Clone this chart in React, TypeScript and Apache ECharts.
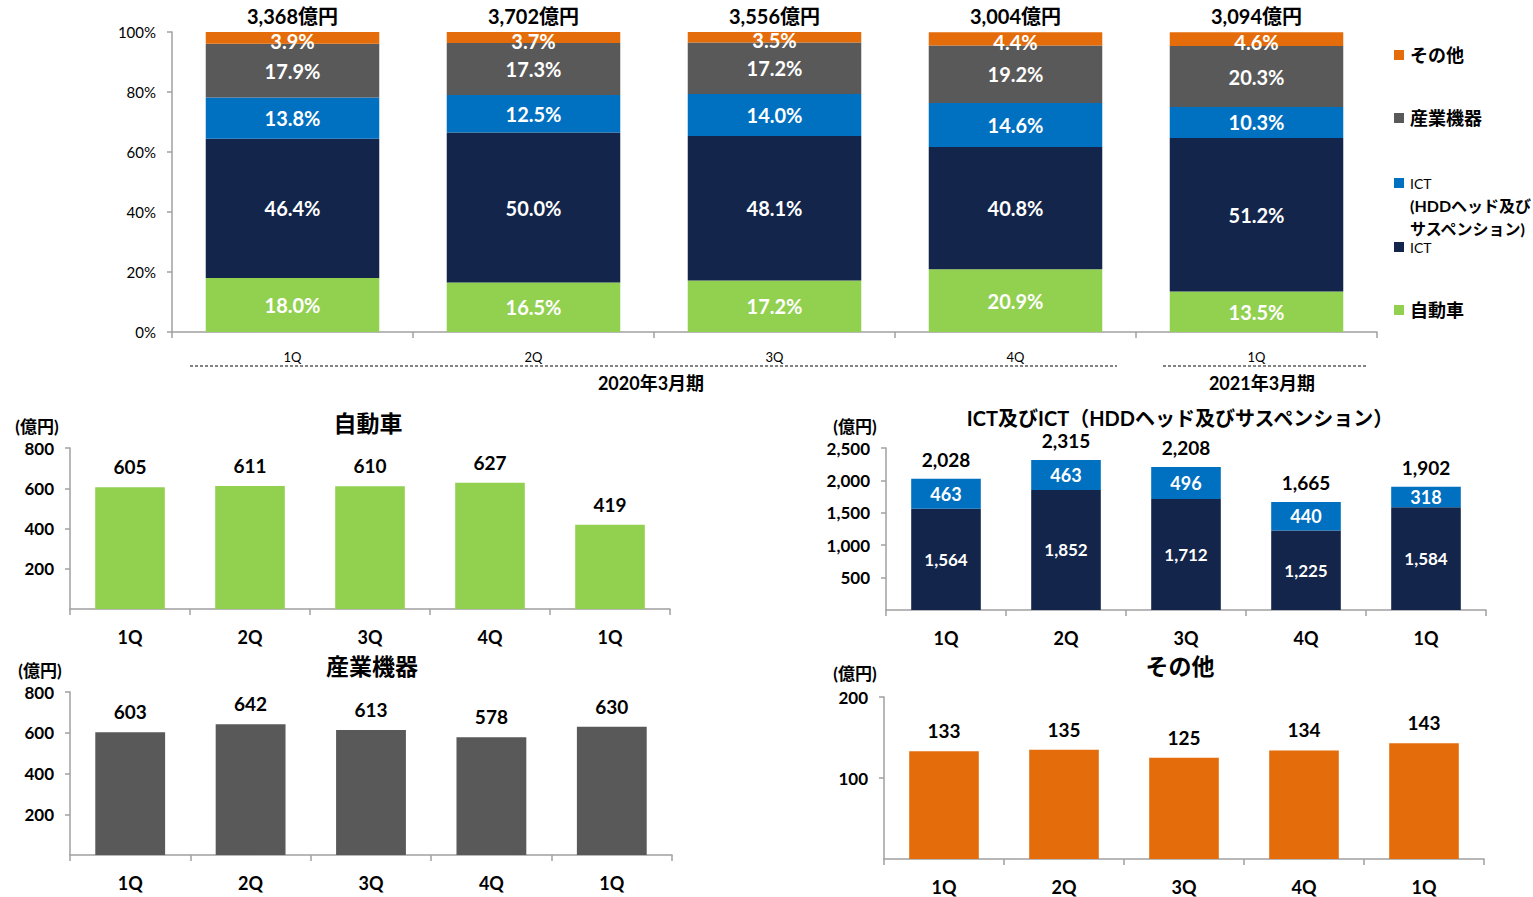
import React, { useEffect, useRef } from "react";
import * as echarts from "echarts";

// ---- data ----
const quarters = ["1Q", "2Q", "3Q", "4Q", "1Q"];
const periods = ["2020年3月期", "2021年3月期"];

// composition of sales (%)
const shareAuto = [18.0, 16.5, 17.2, 20.9, 13.5];
const shareICT = [46.4, 50.0, 48.1, 40.8, 51.2];
const shareHDD = [13.8, 12.5, 14.0, 14.6, 10.3];
const shareIndustrial = [17.9, 17.3, 17.2, 19.2, 20.3];
const shareOther = [3.9, 3.7, 3.5, 4.4, 4.6];
const totalSales = [3368, 3702, 3556, 3004, 3094];

// sales by segment (億円)
const autoSales = [605, 611, 610, 627, 419];
const ictSales = [1564, 1852, 1712, 1225, 1584];
const hddSales = [463, 463, 496, 440, 318];
const ictTotals = [2028, 2315, 2208, 1665, 1902];
const industrialSales = [603, 642, 613, 578, 630];
const otherSales = [133, 135, 125, 134, 143];

const legendNames = ["その他", "産業機器", "ICT", "(HDDヘッド及び", "サスペンション)", "ICT", "自動車"];

// ---- styles ----
const FONT = "Lato, 'Noto Sans CJK JP', sans-serif";
const C_AUTO = "#92D050";
const C_ICT = "#13254A";
const C_HDD = "#0070C0";
const C_IND = "#595959";
const C_OTHER = "#E46C0A";
const AXIS = "#A0A0A0";

const fmt = (n: number) => n.toLocaleString("en-US");

export default function App() {
  const ref = useRef<HTMLDivElement>(null);

  useEffect(() => {
    if (!ref.current) return;
    const chart = echarts.init(ref.current, undefined, { renderer: "svg" });

    const catAxis = (gridIndex: number, top: boolean) => ({
      type: "category",
      gridIndex,
      data: quarters,
      axisLine: { show: true, lineStyle: { color: AXIS, width: 1.5 } },
      axisTick: { show: true, length: 6, lineStyle: { color: AXIS, width: 1.5 } },
      axisLabel: top
        ? { fontSize: 13, color: "#000", margin: 18, fontFamily: FONT }
        : { fontSize: 18, fontWeight: "bold", color: "#000", margin: 19, fontFamily: FONT },
    });

    const valAxis = (gridIndex: number, max: number, interval: number, fmtFn: any, size: number) => ({
      type: "value",
      gridIndex,
      min: 0,
      max,
      interval,
      splitLine: { show: false },
      axisLine: { show: true, lineStyle: { color: AXIS, width: 1.5 } },
      axisTick: { show: true, length: 5, lineStyle: { color: AXIS, width: 1.5 } },
      axisLabel: {
        formatter: fmtFn,
        fontSize: size,
        fontWeight: gridIndex === 0 ? "normal" : "bold",
        color: "#000",
        margin: 16,
        fontFamily: FONT,
        showMinLabel: gridIndex === 0,
      },
    });

    const shareSeg = (name: string, data: number[], color: string, offsetY = 0) => ({
      name,
      type: "bar",
      stack: "share",
      xAxisIndex: 0,
      yAxisIndex: 0,
      barWidth: "72%",
      data,
      itemStyle: { color },
      label: {
        show: true,
        position: "inside",
        offset: [0, offsetY],
        formatter: (p: any) => Number(p.value).toFixed(1) + "%",
        color: "#fff",
        fontSize: 20,
        fontWeight: "bold",
        fontFamily: FONT,
      },
    });

    const simpleBar = (idx: number, data: number[], color: string) => ({
      type: "bar",
      xAxisIndex: idx,
      yAxisIndex: idx,
      barWidth: "58%",
      data,
      itemStyle: { color },
      label: {
        show: true,
        position: "top",
        distance: 11,
        color: "#000",
        fontSize: 19,
        fontWeight: "bold",
        fontFamily: FONT,
      },
    });

    const txt = (x: number, y: number, text: string, size: number, extra: any = {}) => ({
      type: "text",
      x,
      y,
      style: {
        text,
        fontSize: size,
        fontWeight: "bold",
        fontFamily: FONT,
        fill: "#000",
        align: "center",
        verticalAlign: "middle",
        ...extra,
      },
    });

    const sq = (y: number, color: string) => ({
      type: "rect",
      shape: { x: 1394, y: y - 5, width: 10, height: 10 },
      style: { fill: color },
    });

    const leftTxt = { align: "left" };

    const option: any = {
      animation: false,
      textStyle: { fontFamily: FONT },
      grid: [
        { left: 172, top: 32, width: 1205, height: 300 },
        { left: 70, top: 448, width: 600, height: 161 },
        { left: 886, top: 448, width: 600, height: 162 },
        { left: 70, top: 692, width: 602, height: 163 },
        { left: 884, top: 697, width: 600, height: 162 },
      ],
      xAxis: [catAxis(0, true), catAxis(1, false), catAxis(2, false), catAxis(3, false), catAxis(4, false)],
      yAxis: [
        valAxis(0, 100, 20, "{value}%", 15),
        valAxis(1, 800, 200, (v: number) => fmt(v), 17),
        valAxis(2, 2500, 500, (v: number) => fmt(v), 17),
        valAxis(3, 800, 200, (v: number) => fmt(v), 17),
        valAxis(4, 200, 100, (v: number) => fmt(v), 17),
      ],
      series: [
        shareSeg("自動車", shareAuto, C_AUTO),
        shareSeg("ICT", shareICT, C_ICT),
        shareSeg("ICT(HDDヘッド及びサスペンション)", shareHDD, C_HDD),
        shareSeg("産業機器", shareIndustrial, C_IND),
        shareSeg("その他", shareOther, C_OTHER, 3),
        {
          name: "合計",
          type: "bar",
          stack: "share",
          xAxisIndex: 0,
          yAxisIndex: 0,
          barWidth: "72%",
          data: totalSales.map(() => 0),
          itemStyle: { color: "transparent" },
          label: {
            show: true,
            position: "top",
            distance: 6,
            formatter: (p: any) => fmt(totalSales[p.dataIndex]) + "億円",
            color: "#000",
            fontSize: 20,
            fontWeight: "bold",
            fontFamily: FONT,
          },
        },
        simpleBar(1, autoSales, C_AUTO),
        {
          type: "bar",
          stack: "ict",
          xAxisIndex: 2,
          yAxisIndex: 2,
          barWidth: "58%",
          data: ictSales,
          itemStyle: { color: C_ICT },
          label: {
            show: true,
            position: "inside",
            formatter: (p: any) => fmt(p.value),
            color: "#fff",
            fontSize: 17,
            fontWeight: "bold",
            fontFamily: FONT,
          },
        },
        {
          type: "bar",
          stack: "ict",
          xAxisIndex: 2,
          yAxisIndex: 2,
          barWidth: "58%",
          data: hddSales,
          itemStyle: { color: C_HDD },
          label: {
            show: true,
            position: "inside",
            formatter: (p: any) => fmt(p.value),
            color: "#fff",
            fontSize: 18,
            fontWeight: "bold",
            fontFamily: FONT,
          },
        },
        {
          type: "bar",
          stack: "ict",
          xAxisIndex: 2,
          yAxisIndex: 2,
          barWidth: "58%",
          data: ictTotals.map(() => 0),
          itemStyle: { color: "transparent" },
          label: {
            show: true,
            position: "top",
            distance: 10,
            formatter: (p: any) => fmt(ictTotals[p.dataIndex]),
            color: "#000",
            fontSize: 19,
            fontWeight: "bold",
            fontFamily: FONT,
          },
        },
        simpleBar(3, industrialSales, C_IND),
        simpleBar(4, otherSales, C_OTHER),
      ],
      graphic: [
        // titles
        txt(368, 423, "自動車", 23),
        txt(1180, 418, "ICT及びICT（HDDヘッド及びサスペンション）", 20),
        txt(372, 666, "産業機器", 23),
        txt(1180, 666, "その他", 23),
        // units
        txt(37, 426, "(億円)", 17),
        txt(855, 426, "(億円)", 17),
        txt(40, 670, "(億円)", 17),
        txt(855, 673, "(億円)", 17),
        // period separators
        {
          type: "line",
          shape: { x1: 190, y1: 366, x2: 1117, y2: 366 },
          style: { stroke: "#595959", lineWidth: 1.5, lineDash: [3, 2] },
        },
        {
          type: "line",
          shape: { x1: 1163, y1: 366, x2: 1367, y2: 366 },
          style: { stroke: "#595959", lineWidth: 1.5, lineDash: [3, 2] },
        },
        txt(651, 383, periods[0], 18),
        txt(1262, 383, periods[1], 18),
        // legend
        sq(55, C_OTHER),
        txt(1410, 55, legendNames[0], 18, leftTxt),
        sq(118, C_IND),
        txt(1410, 118, legendNames[1], 18, leftTxt),
        sq(183, C_HDD),
        txt(1410, 183, legendNames[2], 14, { ...leftTxt, fontWeight: "normal" }),
        txt(1410, 205, legendNames[3], 16, leftTxt),
        txt(1410, 228, legendNames[4], 16, leftTxt),
        sq(247, C_ICT),
        txt(1410, 247, legendNames[5], 14, { ...leftTxt, fontWeight: "normal" }),
        sq(310, C_AUTO),
        txt(1410, 310, legendNames[6], 18, leftTxt),
      ],
    };

    chart.setOption(option);
    return () => chart.dispose();
  }, []);

  return (
    <div
      ref={ref}
      style={{ position: "absolute", left: 0, top: 0, width: 1533, height: 897, background: "#fff" }}
    />
  );
}
